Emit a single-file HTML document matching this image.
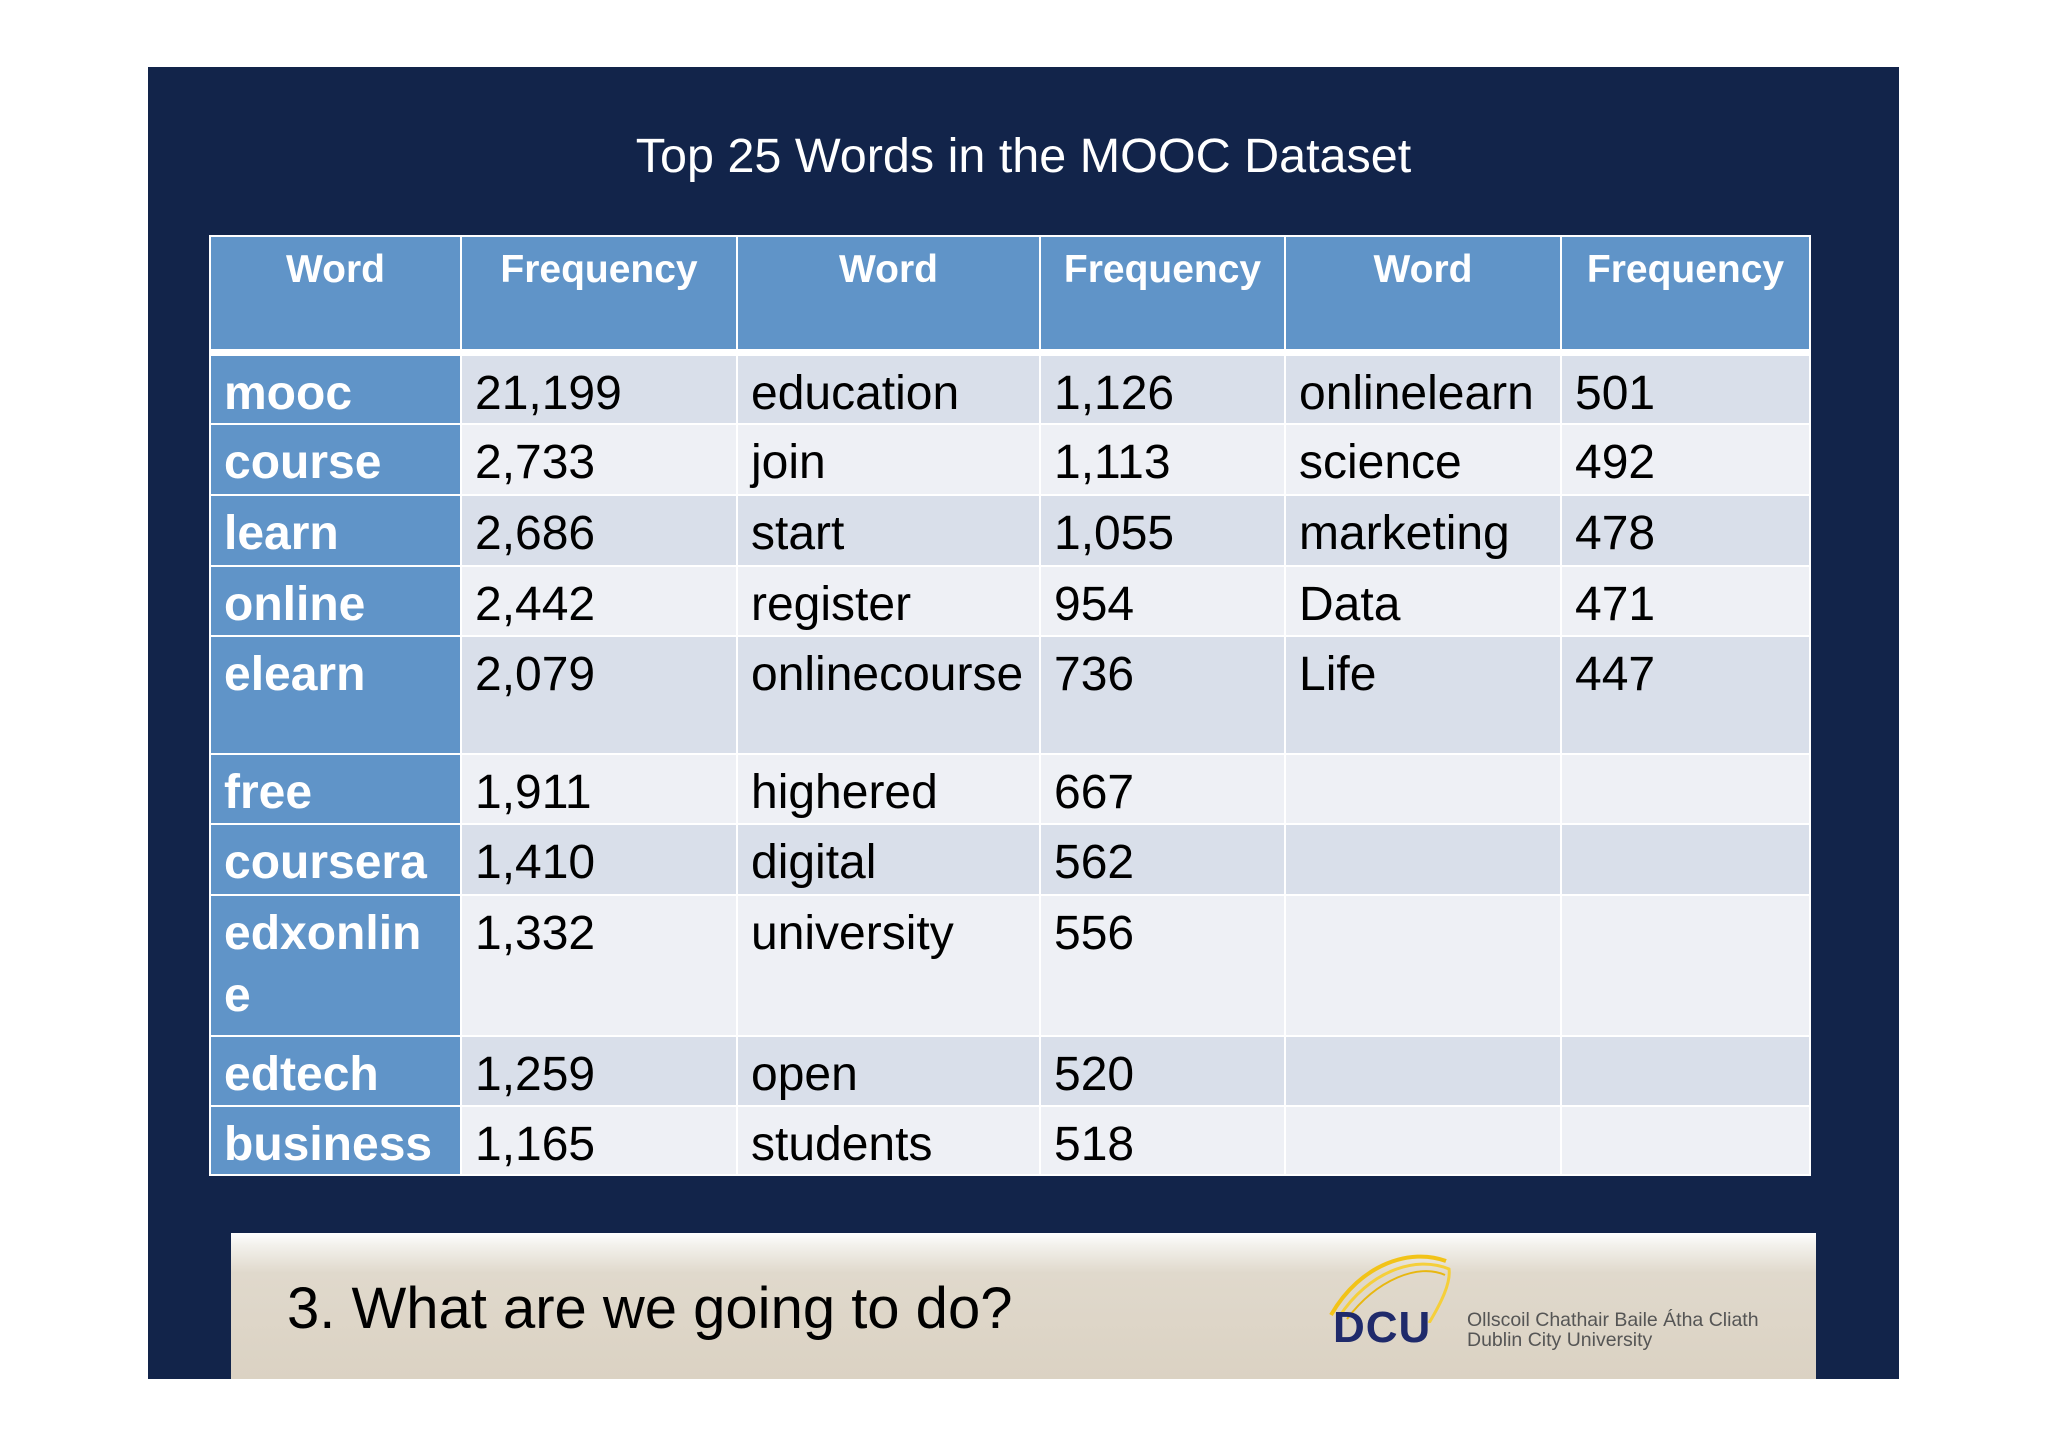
<!DOCTYPE html>
<html><head><meta charset="utf-8">
<style>
html,body{margin:0;padding:0;background:#fff;width:2048px;height:1447px;overflow:hidden;font-family:"Liberation Sans",Arial,sans-serif}
#panel{position:absolute;left:148px;top:67px;width:1751px;height:1312px;background:#12244a}
#title{position:absolute;left:148px;width:1751px;top:128px;text-align:center;color:#fff;font-size:48.5px}
#tbl{position:absolute;left:0;top:0}
.cell{position:absolute;box-sizing:border-box;overflow:hidden;white-space:nowrap;font-size:48px;color:#000;padding-left:13px;padding-top:7px;line-height:62px}
.hdr{background:#6094c8;color:#fff;font-weight:bold;font-size:39px;text-align:center;padding-left:0;padding-top:8px;line-height:50px}
.wc{background:#6094c8;color:#fff;font-weight:bold}
#footer{position:absolute;left:231px;top:1233px;width:1585px;height:146px;background:linear-gradient(#ffffff 0px,#f3f1ec 12px,#e0d9cc 40px,#dbd2c3 100%)}
#ftext{position:absolute;left:56px;top:42px;font-size:58px;color:#000}
#dcu{position:absolute;left:1102px;top:70px;font-size:44px;font-weight:bold;color:#1f2a6b;letter-spacing:1px}
#irish{position:absolute;left:1236px;top:77px;font-size:19.5px;color:#555;line-height:20px}
</style></head><body>
<div id="panel"></div>
<div id="title">Top 25 Words in the MOOC Dataset</div>
<div id="tbl"></div>
<div id="footer">
  <div id="ftext">3. What are we going to do?</div>
  <svg style="position:absolute;left:1090px;top:10px" width="140" height="80">
    <path d="M10 72 C40 20 90 5 125 18" stroke="#f2c318" stroke-width="4" fill="none"/>
    <path d="M18 74 C48 28 95 12 128 26 C130 40 120 60 108 80" stroke="#f5cf3a" stroke-width="3" fill="none"/>
    <path d="M26 76 C56 36 98 20 124 32" stroke="#e8b710" stroke-width="2" fill="none"/>
  </svg>
  <div id="dcu">DCU</div>
  <div id="irish">Ollscoil Chathair Baile Átha Cliath<br>Dublin City University</div>
</div>
<script>
const headers = ["Word","Frequency","Word","Frequency","Word","Frequency"];
const words1 = ["mooc","course","learn","online","elearn","free","coursera","edxonlin e","edtech","business"];
const freq1 = ["21,199","2,733","2,686","2,442","2,079","1,911","1,410","1,332","1,259","1,165"];
const words2 = ["education","join","start","register","onlinecourse","highered","digital","university","open","students"];
const freq2 = ["1,126","1,113","1,055","954","736","667","562","556","520","518"];
const words3 = ["onlinelearn","science","marketing","Data","Life","","","","",""];
const freq3 = ["501","492","478","471","447","","","","",""];
const colX = [210,461,737,1040,1285,1561,1810];
const rowY = [355,424,495,566,636,754,824,895,1036,1106,1175];
const tbl = document.getElementById('tbl');
function mk(x,y,w,h,cls,txt,bg){
  const d=document.createElement('div');
  d.className='cell '+cls;
  d.style.left=(x+1)+'px';d.style.top=(y+1)+'px';d.style.width=(w-2)+'px';d.style.height=(h-2)+'px';
  if(bg)d.style.background=bg;
  d.innerHTML=txt;
  tbl.appendChild(d);return d;
}
const back=document.createElement('div');


back.style.cssText='position:absolute;left:209px;top:235px;width:1602px;height:941px;background:#fff';
tbl.appendChild(back);
headers.forEach((h,i)=>{
  const d=mk(colX[i],236,colX[i+1]-colX[i],114,'hdr',h);
  
  
});
const cols=[words1,freq1,words2,freq2,words3,freq3];
for(let r=0;r<words1.length;r++){
  const bg = r%2===0 ? '#d9dfea' : '#eef0f5';
  cols.forEach((arr,c)=>{
    let txt=arr[r];
    if(c===0) txt=txt.replace(' ','<br>');
    const d=mk(colX[c],rowY[r],colX[c+1]-colX[c],rowY[r+1]-rowY[r],c===0?'wc':'',txt,c===0?null:bg);
    
    
  });
}
</script>
</body></html>
